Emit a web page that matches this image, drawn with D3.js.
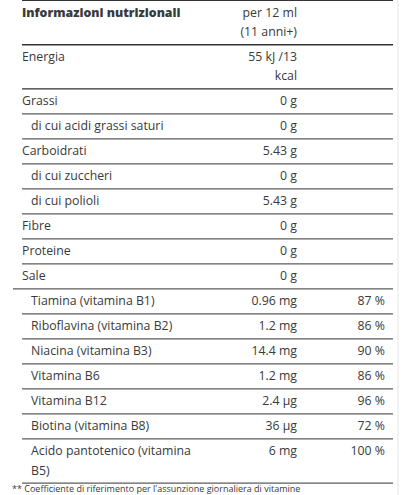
<!DOCTYPE html>
<html><head><meta charset="utf-8">
<script src="https://cdn.jsdelivr.net/npm/d3@7"></script>
<style>body{margin:0;background:#fff;overflow:hidden}text{font-family:"Open Sans",Lato,sans-serif;fill:#3a3a3a}</style>
</head><body><div id="chart"></div>
<script>
const labels = ["Informazioni nutrizionali", "Energia", "Grassi", "di cui acidi grassi saturi", "Carboidrati", "di cui zuccheri", "di cui polioli", "Fibre", "Proteine", "Sale",
  "Tiamina (vitamina B1)", "Riboflavina (vitamina B2)", "Niacina (vitamina B3)", "Vitamina B6", "Vitamina B12", "Biotina (vitamina B8)", "Acido pantotenico (vitamina|B5)"];
const amounts = ["per 12 ml|(11 anni+)", "55 kJ /13|kcal", "0 g", "0 g", "5.43 g", "0 g", "5.43 g", "0 g", "0 g", "0 g",
  "0.96 mg", "1.2 mg", "14.4 mg", "1.2 mg", "2.4 µg", "36 µg", "6 mg"];
const percents = ["", "", "", "", "", "", "", "", "", "", "87 %", "86 %", "90 %", "86 %", "96 %", "72 %", "100 %"];
const indented = [3, 5, 6];
const vitaminStart = 10;

const W = 402, H = 495;
const svg = d3.select("#chart").append("svg").attr("width", W).attr("height", H);

// row heights in text lines
const units = labels.map((l, i) => Math.max(l.split("|").length, amounts[i].split("|").length));
const cum = [0];
units.forEach(u => cum.push(cum[cum.length - 1] + u));
const lineH = 19.2, pad = 2.9;
const rowTop = i => cum[i] * lineH + i * pad * 2;

svg.append("line").attr("x1", 398).attr("x2", 398).attr("y1", 0).attr("y2", H).attr("stroke", "#e6e6e6");
svg.append("line").attr("x1", 22).attr("x2", 393).attr("y1", 0.5).attr("y2", 0.5).attr("stroke", "#333");

labels.forEach((l, i) => {
  const top = rowTop(i), bottom = rowTop(i + 1);
  const lx = (i >= vitaminStart || indented.includes(i)) ? 31 : 22;
  const base = top + pad + 14;
  l.split("|").forEach((t, k) => svg.append("text").attr("x", lx).attr("y", base + k * lineH)
    .attr("font-size", 12.3).attr("font-weight", i === 0 ? 800 : 400).attr("fill", i === 0 ? "#222" : "#3a3a3a").text(t));
  amounts[i].split("|").forEach((t, k) => svg.append("text").attr("x", 297).attr("y", base + k * lineH)
    .attr("text-anchor", "end").attr("font-size", 12.3).text(t));
  if (percents[i]) svg.append("text").attr("x", 385).attr("y", base)
    .attr("text-anchor", "end").attr("font-size", 12.3).text(percents[i]);
  const x1 = (i === vitaminStart - 1) ? 13 : 22;
  svg.append("line").attr("x1", x1).attr("x2", 393).attr("y1", bottom + 0.5).attr("y2", bottom + 0.5)
    .attr("stroke", "#333").attr("stroke-width", i <= 1 ? 1.4 : 1);
});

svg.append("text").attr("x", 12).attr("y", rowTop(labels.length) + 9).attr("font-size", 9).attr("fill", "#999")
  .text("** Coefficiente di riferimento per l'assunzione giornaliera di vitamine");
</script></body></html>
